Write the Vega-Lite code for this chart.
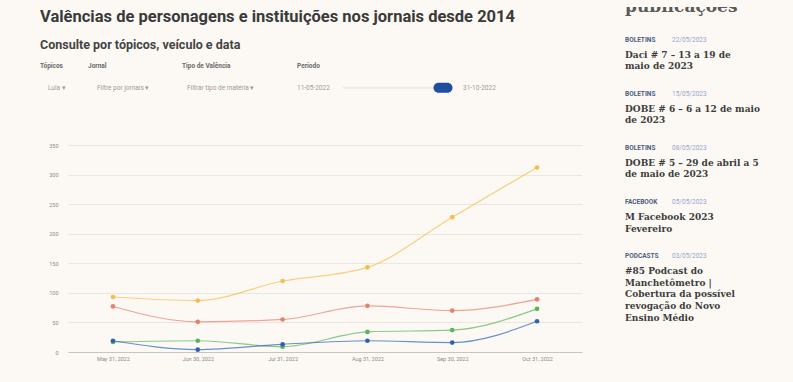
{
  "$schema": "https://vega.github.io/schema/vega-lite/v6.json",
  "background": "#fcf9f4",
  "padding": {"left": 40, "top": 7, "right": 0, "bottom": 0},
  "align": "none",
  "spacing": 43,
  "config": {"view": {"stroke": null}, "font": "Roboto"},
  "hconcat": [
    {
      "align": "none",
      "spacing": 0,
      "vconcat": [
        {
          "width": 514,
          "height": 48,
          "data": {"values": [
            {"row": "title", "text": "Valências de personagens e instituições nos jornais desde 2014"},
            {"row": "subtitle", "text": "Consulte por tópicos, veículo e data"}
          ]},
          "encoding": {
            "x": {"datum": "c", "type": "nominal", "scale": {"type": "point", "padding": 0, "align": 0}, "axis": null},
            "y": {"field": "row", "type": "nominal", "scale": {"type": "point", "domain": ["title", "subtitle"], "padding": 0.342}, "axis": null},
            "text": {"field": "text"}
          },
          "layer": [
            {"transform": [{"filter": "datum.row === 'title'"}], "mark": {"type": "text", "align": "left", "baseline": "middle", "dx": -28, "font": "Roboto", "fontSize": 16.5, "fontWeight": "bold", "color": "#3a3a3a"}},
            {"transform": [{"filter": "datum.row === 'subtitle'"}], "mark": {"type": "text", "align": "left", "baseline": "middle", "dx": -28, "font": "Roboto", "fontSize": 12.5, "fontWeight": "bold", "color": "#444444"}}
          ]
        },
        {
          "align": "none",
          "spacing": 0,
          "hconcat": [
            {
              "width": 20, "height": 87.25,
              "data": {"values": [{"part": "label", "text": "Tópicos"}, {"part": "value", "text": "Lula ▾"}]},
              "encoding": {
                "x": {"datum": "c", "type": "nominal", "scale": {"type": "point", "padding": 0, "align": 0}, "axis": null},
                "y": {"field": "part", "type": "nominal", "scale": {"type": "band", "domain": ["label", "value"], "paddingInner": 0, "paddingOuter": 1.077, "align": 0}, "axis": null},
                "text": {"field": "text"}
              },
              "layer": [
                {"transform": [{"filter": "datum.part === 'label'"}], "mark": {"type": "text", "align": "left", "baseline": "middle", "dx": -28, "fontSize": 6.5, "fontWeight": "bold", "color": "#6a6a6a"}},
                {"transform": [{"filter": "datum.part === 'value'"}], "mark": {"type": "text", "align": "left", "baseline": "middle", "dx": -20, "fontSize": 6.5, "color": "#9a9a9a"}}
              ]
            },
            {
              "width": 94, "height": 87.25,
              "data": {"values": [{"part": "label", "text": "Jornal"}, {"part": "value", "text": "Filtre por jornais ▾"}]},
              "encoding": {
                "x": {"datum": "c", "type": "nominal", "scale": {"type": "point", "padding": 0, "align": 0}, "axis": null},
                "y": {"field": "part", "type": "nominal", "scale": {"type": "band", "domain": ["label", "value"], "paddingInner": 0, "paddingOuter": 1.077, "align": 0}, "axis": null},
                "text": {"field": "text"}
              },
              "layer": [
                {"transform": [{"filter": "datum.part === 'label'"}], "mark": {"type": "text", "align": "left", "baseline": "middle", "fontSize": 6.5, "fontWeight": "bold", "color": "#6a6a6a"}},
                {"transform": [{"filter": "datum.part === 'value'"}], "mark": {"type": "text", "align": "left", "baseline": "middle", "dx": 9, "fontSize": 6.5, "color": "#9a9a9a"}}
              ]
            },
            {
              "width": 115, "height": 87.25,
              "data": {"values": [{"part": "label", "text": "Tipo de Valência"}, {"part": "value", "text": "Filtrar tipo de matéria ▾"}]},
              "encoding": {
                "x": {"datum": "c", "type": "nominal", "scale": {"type": "point", "padding": 0, "align": 0}, "axis": null},
                "y": {"field": "part", "type": "nominal", "scale": {"type": "band", "domain": ["label", "value"], "paddingInner": 0, "paddingOuter": 1.077, "align": 0}, "axis": null},
                "text": {"field": "text"}
              },
              "layer": [
                {"transform": [{"filter": "datum.part === 'label'"}], "mark": {"type": "text", "align": "left", "baseline": "middle", "fontSize": 6.5, "fontWeight": "bold", "color": "#6a6a6a"}},
                {"transform": [{"filter": "datum.part === 'value'"}], "mark": {"type": "text", "align": "left", "baseline": "middle", "dx": 5, "fontSize": 6.5, "color": "#9a9a9a"}}
              ]
            },
            {
              "width": 44, "height": 87.25,
              "data": {"values": [{"part": "label", "text": "Período"}, {"part": "value", "text": "11-05-2022"}]},
              "encoding": {
                "x": {"datum": "c", "type": "nominal", "scale": {"type": "point", "padding": 0, "align": 0}, "axis": null},
                "y": {"field": "part", "type": "nominal", "scale": {"type": "band", "domain": ["label", "value"], "paddingInner": 0, "paddingOuter": 1.077, "align": 0}, "axis": null},
                "text": {"field": "text"}
              },
              "layer": [
                {"transform": [{"filter": "datum.part === 'label'"}], "mark": {"type": "text", "align": "left", "baseline": "middle", "fontSize": 6.5, "fontWeight": "bold", "color": "#6a6a6a"}},
                {"transform": [{"filter": "datum.part === 'value'"}], "mark": {"type": "text", "align": "left", "baseline": "middle", "fontSize": 6.5, "color": "#9a9a9a"}}
              ]
            },
            {
              "width": 100, "height": 87.25,
              "data": {"values": [{"part": "value", "start": "2022-05-11", "end": "2022-10-31", "endLabel": "31-10-2022"}]},
              "encoding": {
                "y": {"field": "part", "type": "nominal", "scale": {"type": "band", "domain": ["label", "value"], "paddingInner": 0, "paddingOuter": 1.077, "align": 0}, "axis": null}
              },
              "layer": [
                {"mark": {"type": "rule", "color": "#f0ede7", "strokeWidth": 2.5},
                 "encoding": {"x": {"field": "start", "type": "temporal", "scale": {"nice": false}, "axis": null}, "x2": {"field": "end"}}},
                {"mark": {"type": "point", "shape": "M -0.45 -0.5 L 0.45 -0.5 A 0.5 0.5 0 0 1 0.45 0.5 L -0.45 0.5 A 0.5 0.5 0 0 1 -0.45 -0.5 Z", "size": 400, "filled": true, "color": "#1f4e9f", "opacity": 1},
                 "encoding": {"x": {"field": "end", "type": "temporal"}}},
                {"mark": {"type": "text", "align": "left", "baseline": "middle", "dx": 20, "fontSize": 6.5, "color": "#9a9a9a"},
                 "encoding": {"x": {"field": "end", "type": "temporal"}, "text": {"field": "endLabel"}}}
              ]
            }
          ]
        },
        {
          "width": 514,
          "height": 207,
          "data": {"values": [
            {"date": "May 31, 2022", "valencia": "Neutra", "value": 93},
            {"date": "Jun 30, 2022", "valencia": "Neutra", "value": 87},
            {"date": "Jul 31, 2022", "valencia": "Neutra", "value": 120},
            {"date": "Aug 31, 2022", "valencia": "Neutra", "value": 143},
            {"date": "Sep 30, 2022", "valencia": "Neutra", "value": 228},
            {"date": "Oct 31, 2022", "valencia": "Neutra", "value": 312},
            {"date": "May 31, 2022", "valencia": "Contrária", "value": 77},
            {"date": "Jun 30, 2022", "valencia": "Contrária", "value": 51},
            {"date": "Jul 31, 2022", "valencia": "Contrária", "value": 55},
            {"date": "Aug 31, 2022", "valencia": "Contrária", "value": 78},
            {"date": "Sep 30, 2022", "valencia": "Contrária", "value": 70},
            {"date": "Oct 31, 2022", "valencia": "Contrária", "value": 89},
            {"date": "May 31, 2022", "valencia": "Favorável", "value": 17},
            {"date": "Jun 30, 2022", "valencia": "Favorável", "value": 19},
            {"date": "Jul 31, 2022", "valencia": "Favorável", "value": 9},
            {"date": "Aug 31, 2022", "valencia": "Favorável", "value": 34},
            {"date": "Sep 30, 2022", "valencia": "Favorável", "value": 37},
            {"date": "Oct 31, 2022", "valencia": "Favorável", "value": 73},
            {"date": "May 31, 2022", "valencia": "Ambivalente", "value": 19},
            {"date": "Jun 30, 2022", "valencia": "Ambivalente", "value": 4},
            {"date": "Jul 31, 2022", "valencia": "Ambivalente", "value": 13},
            {"date": "Aug 31, 2022", "valencia": "Ambivalente", "value": 19},
            {"date": "Sep 30, 2022", "valencia": "Ambivalente", "value": 16},
            {"date": "Oct 31, 2022", "valencia": "Ambivalente", "value": 52}
          ]},
          "encoding": {
            "x": {"field": "date", "type": "ordinal", "sort": ["May 31, 2022", "Jun 30, 2022", "Jul 31, 2022", "Aug 31, 2022", "Sep 30, 2022", "Oct 31, 2022"],
                  "scale": {"type": "point", "padding": 0.53},
                  "axis": {"title": null, "labelAngle": 0, "labelFontSize": 5.5, "labelColor": "#8a8a8a", "labelPadding": 4, "ticks": false, "tickSize": 0, "domainColor": "#c9c4bc", "domainWidth": 1, "grid": false}},
            "y": {"field": "value", "type": "quantitative", "scale": {"domain": [0, 350], "nice": false},
                  "axis": {"title": null, "values": [0, 50, 100, 150, 200, 250, 300, 350], "labelFontSize": 5.5, "labelColor": "#8a8a8a", "labelPadding": 10, "ticks": false, "tickSize": 0, "domain": false, "gridColor": "#ebe7e0", "gridWidth": 1, "minExtent": 28, "maxExtent": 28}},
            "color": {"field": "valencia", "type": "nominal",
                      "scale": {"domain": ["Neutra", "Contrária", "Favorável", "Ambivalente"], "range": ["#f5bd4f", "#e9806e", "#5db35d", "#2f62b0"]},
                      "legend": null}
          },
          "layer": [
            {"mark": {"type": "line", "interpolate": "monotone", "strokeWidth": 1.2, "opacity": 0.7}},
            {"mark": {"type": "point", "filled": true, "size": 22, "opacity": 1}}
          ]
        }
      ]
    },
    {
      "width": 168,
      "height": 375,
      "data": {"values": [
        {"item": 1, "cat": "BOLETINS", "date": "22/05/2023", "title": "Daci # 7 – 13 a 19 de\nmaio de 2023"},
        {"item": 2, "cat": "BOLETINS", "date": "15/05/2023", "title": "DOBE # 6 – 6 a 12 de maio\nde 2023"},
        {"item": 3, "cat": "BOLETINS", "date": "08/05/2023", "title": "DOBE # 5 – 29 de abril a 5\nde maio de 2023"},
        {"item": 4, "cat": "FACEBOOK", "date": "05/05/2023", "title": "M Facebook 2023\nFevereiro"},
        {"item": 5, "cat": "PODCASTS", "date": "03/05/2023", "title": "#85 Podcast do\nManchetômetro |\nCobertura da possível\nrevogação do Novo\nEnsino Médio"}
      ]},
      "encoding": {
        "x": {"datum": "s", "type": "nominal", "scale": {"type": "point", "padding": 0, "align": 0}, "axis": null},
        "y": {"field": "item", "type": "quantitative", "scale": {"domain": [0.389, 7.333], "reverse": true, "nice": false, "zero": false}, "axis": null}
      },
      "layer": [
        {"data": {"values": [{"item": 0, "heading": "publicações"}]},
         "mark": {"type": "text", "align": "left", "baseline": "alphabetic", "dy": 26, "clip": true, "font": "DejaVu Serif", "fontSize": 17, "fontWeight": "bold", "color": "#5a5a5a"},
         "encoding": {"text": {"field": "heading"}}},
        {"mark": {"type": "text", "align": "left", "baseline": "middle", "fontSize": 6.5, "fontWeight": "bold", "color": "#4d5c7e"},
         "encoding": {"text": {"field": "cat"}}},
        {"mark": {"type": "text", "align": "left", "baseline": "middle", "dx": 47, "fontSize": 6.5, "color": "#93a6cc"},
         "encoding": {"text": {"field": "date"}}},
        {"mark": {"type": "text", "align": "left", "baseline": "top", "dy": 10.7, "lineBreak": "\n", "lineHeight": 11.8, "font": "DejaVu Serif", "fontSize": 9, "fontWeight": "bold", "color": "#3d3d3d"},
         "encoding": {"text": {"field": "title"}}}
      ]
    }
  ]
}
